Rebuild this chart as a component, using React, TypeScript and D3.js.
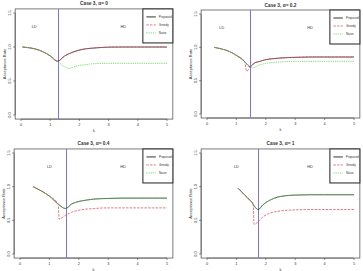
import { useEffect, useRef } from "react";
import * as d3 from "d3";

// ---- data ----
const titles = ["Case 3, \u03b1= 0", "Case 3, \u03b1= 0.2", "Case 3, \u03b1= 0.4", "Case 3, \u03b1= 1"];
const boundaries = [1.25, 1.47, 1.55, 1.74];
const regionLabels = ["LD", "HD"];
const legendLabels = ["Proposed", "Greedy", "Naive"];
const xTicks = [0, 1, 2, 3, 4, 5];
const yTicks = [0, 0.5, 1.0, 1.5];

// alpha = 0
const k1 = [0.05, 0.25, 0.5, 0.75, 1.0, 1.25, 1.5, 1.75, 2.0, 2.25, 2.5, 2.75, 3.0, 3.5, 4.0, 4.5, 5.0];
const proposed1 = [1.0, 0.99, 0.97, 0.93, 0.87, 0.79, 0.87, 0.92, 0.955, 0.975, 0.985, 0.993, 0.998, 1.0, 1.0, 1.0, 1.0];
const greedy1 = proposed1;
const kNaive1 = [0.05, 0.25, 0.5, 0.75, 1.0, 1.25, 1.45, 1.65, 1.9, 2.2, 2.5, 3.0, 3.5, 4.0, 4.5, 5.0];
const naive1 = [1.0, 0.99, 0.97, 0.93, 0.87, 0.79, 0.72, 0.685, 0.72, 0.74, 0.755, 0.76, 0.76, 0.76, 0.76, 0.76];

// alpha = 0.2
const k2 = [0.25, 0.5, 0.75, 1.0, 1.25, 1.47, 1.6, 1.8, 2.0, 2.25, 2.5, 3.0, 3.5, 4.0, 4.5, 5.0];
const proposed2 = [1.0, 0.975, 0.94, 0.88, 0.8, 0.71, 0.76, 0.79, 0.815, 0.83, 0.84, 0.85, 0.855, 0.855, 0.855, 0.855];
const kGreedy2 = [0.25, 0.5, 0.75, 1.0, 1.25, 1.28, 1.35, 1.47, 1.6, 1.8, 2.0, 2.25, 2.5, 3.0, 3.5, 4.0, 4.5, 5.0];
const greedy2 = [1.0, 0.975, 0.94, 0.88, 0.8, 0.78, 0.64, 0.71, 0.76, 0.79, 0.815, 0.83, 0.84, 0.85, 0.855, 0.855, 0.855, 0.855];
const kNaive2 = [0.25, 0.5, 0.75, 1.0, 1.25, 1.47, 1.55, 1.75, 2.0, 2.5, 3.0, 3.5, 4.0, 4.5, 5.0];
const naive2 = [1.0, 0.975, 0.94, 0.88, 0.8, 0.71, 0.69, 0.73, 0.76, 0.78, 0.79, 0.79, 0.79, 0.79, 0.79];

// alpha = 0.4
const k3 = [0.45, 0.75, 1.0, 1.3, 1.55, 1.75, 2.0, 2.25, 2.5, 3.0, 3.5, 4.0, 4.5, 5.0];
const proposed3 = [1.0, 0.93, 0.86, 0.74, 0.675, 0.74, 0.78, 0.8, 0.815, 0.825, 0.83, 0.83, 0.83, 0.83];
const naive3 = proposed3;
const kGreedy3 = [0.45, 0.75, 1.0, 1.3, 1.33, 1.55, 1.75, 2.0, 2.5, 3.0, 3.5, 4.0, 4.5, 5.0];
const greedy3 = [1.0, 0.93, 0.86, 0.74, 0.52, 0.575, 0.62, 0.65, 0.675, 0.685, 0.685, 0.685, 0.685, 0.685];

// alpha = 1
const k4 = [1.05, 1.25, 1.5, 1.74, 1.9, 2.1, 2.3, 2.5, 3.0, 3.5, 4.0, 4.5, 5.0];
const proposed4 = [0.98, 0.89, 0.78, 0.66, 0.73, 0.79, 0.83, 0.855, 0.875, 0.88, 0.88, 0.88, 0.88];
const naive4 = proposed4;
const kGreedy4 = [1.05, 1.25, 1.5, 1.57, 1.6, 1.74, 1.9, 2.1, 2.3, 2.5, 3.0, 3.5, 4.0, 4.5, 5.0];
const greedy4 = [0.98, 0.89, 0.78, 0.75, 0.44, 0.48, 0.55, 0.6, 0.625, 0.64, 0.655, 0.66, 0.66, 0.66, 0.66];

const panelSeries = [
  [[k1, proposed1], [k1, greedy1], [kNaive1, naive1]],
  [[k2, proposed2], [kGreedy2, greedy2], [kNaive2, naive2]],
  [[k3, proposed3], [kGreedy3, greedy3], [k3, naive3]],
  [[k4, proposed4], [kGreedy4, greedy4], [k4, naive4]],
];

// ---- layout ----
const panels = [
  { dx: 0, dy: 0, x0: 21, x5: 167, y0: 115, y15: 13, left: 0.45 },
  { dx: 181, dy: 0, x0: 26, x5: 173, y0: 114, y15: 14, left: 0.5 },
  { dx: 0, dy: 135, x0: 20, x5: 167, y0: 119, y15: 18, left: 1.0 },
  { dx: 181, dy: 135, x0: 26, x5: 173, y0: 119, y15: 18, left: 1.0 },
];
const colors = ["#000000", "#DF536B", "#61D04F"];
const dashes = ["none", "2.5,1.2", "1.2,1"];
const font = "Liberation Sans, Arial, Helvetica, sans-serif";

function App() {
  const ref = useRef<SVGSVGElement>(null);

  useEffect(() => {
    draw();
    // eslint-disable-next-line
  }, []);

  function draw() {
    const svg = d3.select(ref.current);
    svg.selectAll("*").remove();

    panels.forEach((p, i) => {
      const x = d3.scaleLinear().domain([0, 5]).range([p.x0, p.x5]);
      const y = d3.scaleLinear().domain([0, 1.5]).range([p.y0, p.y15]);
      const bl = x(-0.2), br = x(5.2), bt = y(1.56), bb = y(-0.06);
      const g = svg.append("g").attr("transform", `translate(${p.dx},${p.dy})`);

      // title
      g.append("text")
        .attr("x", (bl + br) / 2).attr("y", bt - 3.5)
        .attr("text-anchor", "middle")
        .attr("font-size", 4.8).attr("font-weight", "bold")
        .attr("font-family", font).attr("fill", "#333")
        .text(titles[i]);

      // y axis
      g.append("line").attr("x1", bl).attr("x2", bl)
        .attr("y1", y(0)).attr("y2", y(1.5)).attr("stroke", "#444").attr("stroke-width", 0.6);
      yTicks.forEach(t => {
        g.append("line").attr("x1", bl - 2).attr("x2", bl).attr("y1", y(t)).attr("y2", y(t))
          .attr("stroke", "#444").attr("stroke-width", 0.6);
        g.append("text")
          .attr("transform", `translate(${bl - 4},${y(t)}) rotate(-90)`)
          .attr("text-anchor", "middle")
          .attr("font-size", 3.8).attr("font-family", font).attr("fill", "#333")
          .text(t.toFixed(1));
      });
      g.append("text")
        .attr("transform", `translate(${bl - 9},${(y(0) + y(1.5)) / 2}) rotate(-90)`)
        .attr("text-anchor", "middle")
        .attr("font-size", 4).attr("font-family", font).attr("fill", "#333")
        .text("Acceptance Rate");

      // x axis
      g.append("line").attr("x1", x(0)).attr("x2", x(5))
        .attr("y1", bb).attr("y2", bb).attr("stroke", "#444").attr("stroke-width", 0.6);
      xTicks.forEach(t => {
        g.append("line").attr("x1", x(t)).attr("x2", x(t)).attr("y1", bb).attr("y2", bb + 2)
          .attr("stroke", "#444").attr("stroke-width", 0.6);
        g.append("text")
          .attr("x", x(t)).attr("y", bb + 6.5)
          .attr("text-anchor", "middle")
          .attr("font-size", 3.8).attr("font-family", font).attr("fill", "#333")
          .text(String(t));
      });
      g.append("text")
        .attr("x", (bl + br) / 2).attr("y", bb + 12.5)
        .attr("text-anchor", "middle")
        .attr("font-size", 4).attr("font-family", font).attr("fill", "#333")
        .text("k");

      // plot box
      g.append("rect").attr("x", bl).attr("y", bt).attr("width", br - bl).attr("height", bb - bt)
        .attr("fill", "none").attr("stroke", "#444").attr("stroke-width", 0.7);

      // boundary
      const bx = Math.round(x(boundaries[i])) + 0.5;
      g.append("line").attr("x1", bx).attr("x2", bx)
        .attr("y1", bt).attr("y2", bb).attr("stroke", "#7c74e0").attr("stroke-width", 1);

      // region labels
      [p.left, 3.5].forEach((kx, j) => {
        g.append("text")
          .attr("x", x(kx)).attr("y", y(1.3) + 1.3)
          .attr("text-anchor", "middle")
          .attr("font-size", 3.8).attr("font-family", font).attr("fill", "#333")
          .text(regionLabels[j]);
      });

      // series
      panelSeries[i].forEach((s, j) => {
        const pts: [number, number][] = s[0].map((kv, n) => [x(kv), y(s[1][n])]);
        const path = d3.line().curve(d3.curveMonotoneX)(pts);
        g.append("path").attr("d", path ?? "")
          .attr("fill", "none").attr("stroke", colors[j])
          .attr("stroke-width", 0.8).attr("stroke-dasharray", dashes[j])
          .attr("opacity", j === 0 ? 0.85 : 1);
      });

      // legend
      const lw = 30, lh = 34;
      const lx = br - lw, ly = bt;
      g.append("rect").attr("x", lx).attr("y", ly).attr("width", lw).attr("height", lh)
        .attr("fill", "white").attr("stroke", "#333").attr("stroke-width", 1.1);
      legendLabels.forEach((lab, j) => {
        const yy = ly + 8 + j * 8;
        g.append("line").attr("x1", lx + 3.5).attr("x2", lx + 13).attr("y1", yy).attr("y2", yy)
          .attr("stroke", colors[j]).attr("stroke-width", 0.8).attr("stroke-dasharray", dashes[j]);
        g.append("text").attr("x", lx + 16).attr("y", yy + 1)
          .attr("font-size", 3).attr("font-family", font).attr("fill", "#333")
          .text(lab);
      });
    });
  }

  return (
    <svg ref={ref} width={363} height={271}
      style={{ position: "absolute", left: 0, top: 0, background: "white" }}>
    </svg>
  );
}

export default App;
